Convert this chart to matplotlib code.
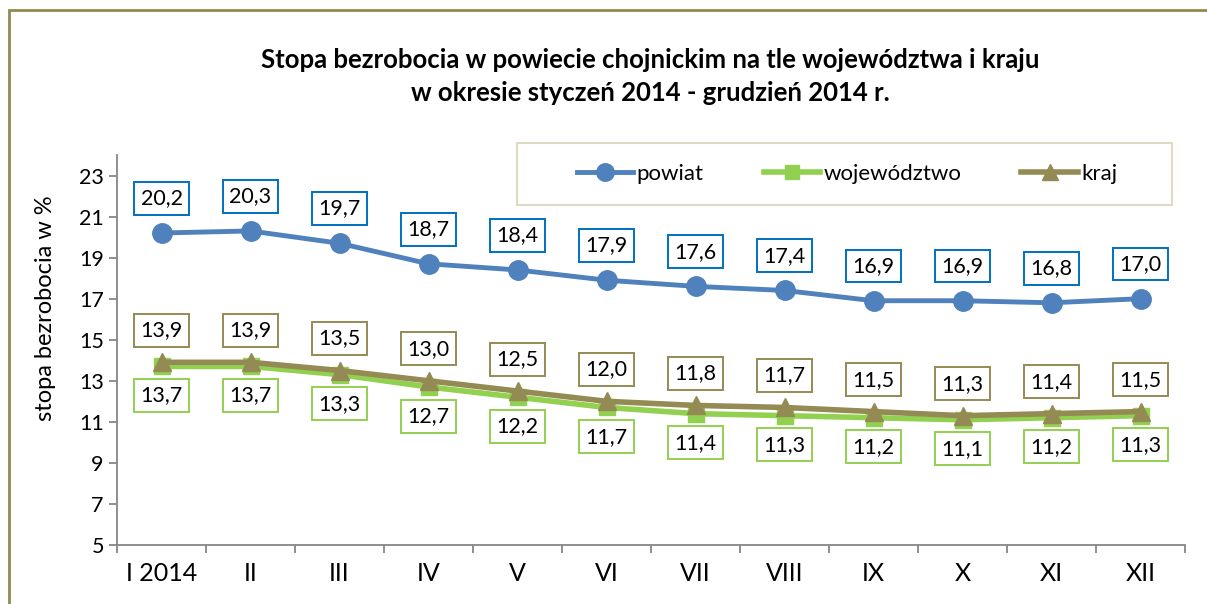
import matplotlib
matplotlib.use('Agg')
import matplotlib.pyplot as plt
from matplotlib.patches import Rectangle

months = ['I 2014', 'II', 'III', 'IV', 'V', 'VI', 'VII', 'VIII', 'IX', 'X', 'XI', 'XII']
powiat = [20.2, 20.3, 19.7, 18.7, 18.4, 17.9, 17.6, 17.4, 16.9, 16.9, 16.8, 17.0]
wojewodztwo = [13.7, 13.7, 13.3, 12.7, 12.2, 11.7, 11.4, 11.3, 11.2, 11.1, 11.2, 11.3]
kraj = [13.9, 13.9, 13.5, 13.0, 12.5, 12.0, 11.8, 11.7, 11.5, 11.3, 11.4, 11.5]

plt.rcParams['font.family'] = ['Lato', 'DejaVu Sans']

c_pow = '#4f81bd'
c_woj = '#92d050'
c_kraj = '#948a54'

fig = plt.figure(figsize=(12.07, 6.04), dpi=100)
ax = fig.add_axes([117/1207, 59/604, (1185-117)/1207, (545-155)/604])

x = list(range(len(months)))
ax.plot(x, powiat, color=c_pow, lw=3.5, marker='o', ms=14, label='powiat', zorder=3)
ax.plot(x, wojewodztwo, color=c_woj, lw=4, marker='s', ms=11, label='województwo', zorder=3)
ax.plot(x, kraj, color=c_kraj, lw=4, marker='^', ms=13, label='kraj', zorder=4)

def labels(vals, color, dy):
    for i, v in enumerate(vals):
        ax.annotate(f'{v:.1f}'.replace('.', ','), (i, v), xytext=(0, dy),
                    textcoords='offset points', ha='center', va='center',
                    fontsize=15.5, zorder=6,
                    bbox=dict(boxstyle='square,pad=0.3', fc='white', ec=color, lw=1.4))

labels(powiat, '#0070c0', 25)
labels(kraj, c_kraj, 23)
labels(wojewodztwo, c_woj, -21)

ax.set_xlim(-0.5, len(months) - 0.5)
ax.set_ylim(5, 24)
ax.set_yticks(range(5, 24, 2))
ax.set_xticks(x)
ax.set_xticklabels(months)
ax.set_xticks([i - 0.5 for i in range(len(months) + 1)], minor=True)
ax.tick_params(axis='x', which='major', length=0, labelsize=18, pad=12)
ax.tick_params(axis='x', which='minor', length=6, color='#868686', width=1.3)
ax.tick_params(axis='y', length=6, color='#868686', width=1.3, labelsize=15.5)
for s in ['top', 'right']:
    ax.spines[s].set_visible(False)
for s in ['left', 'bottom']:
    ax.spines[s].set_color('#868686')
    ax.spines[s].set_linewidth(1.3)

fig.text(46/1207, 1 - 308/604, 'stopa bezrobocia w %', rotation=90,
         ha='center', va='center', fontsize=17)

fig.text(650/1207, 1 - 60/604, 'Stopa bezrobocia w powiecie chojnickim na tle województwa i kraju',
         ha='center', va='center', fontsize=18.5, fontweight='bold')
fig.text(650/1207, 1 - 93/604, 'w okresie styczeń 2014 - grudzień 2014 r.',
         ha='center', va='center', fontsize=18.5, fontweight='bold')

# legend frame
fig.patches.append(Rectangle((517/1207, 1 - 205/604), (1172-517)/1207, 62/604,
                             transform=fig.transFigure, fill=False,
                             ec='#ddd9c3', lw=1.5))
fig.legend(loc='center', bbox_to_anchor=(847/1207, 1 - 174/604), ncol=3,
           frameon=False, fontsize=16, handlelength=2.55, handletextpad=0.15,
           columnspacing=2.7, numpoints=1, markerscale=0.9)

# outer border
fig.patches.append(Rectangle((9/1207, -0.1), 1.2, 1.1 - 10/604,
                             transform=fig.transFigure, fill=False,
                             ec='#938953', lw=2))

fig.savefig('out.png', dpi=100)
